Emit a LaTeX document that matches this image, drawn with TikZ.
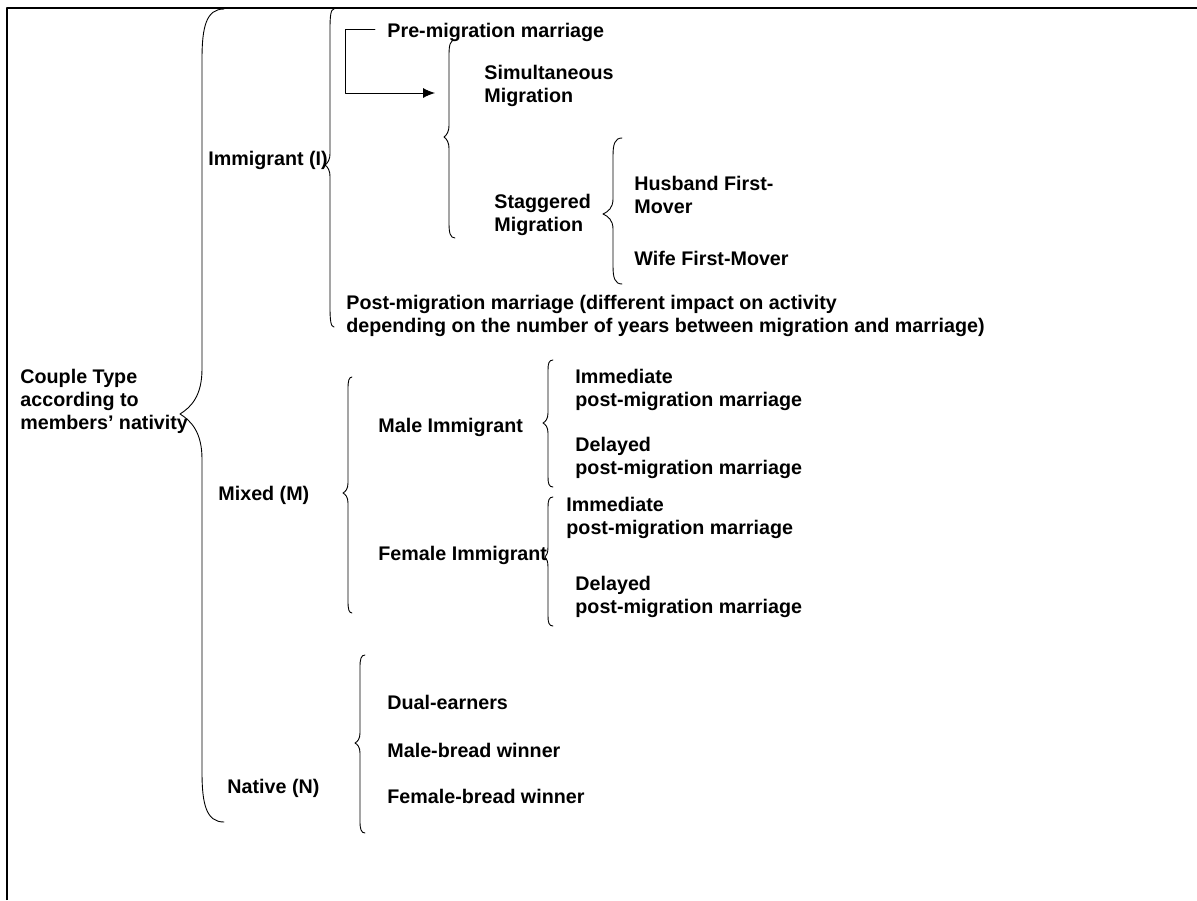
\documentclass[tikz,border=0pt]{standalone}
\usepackage{fontspec}
\setmainfont{Liberation Sans}
\usetikzlibrary{arrows.meta}
% curly brace: spine x, top y, tip y, bottom y, end offset, tip depth, end curl, tip curl
\newcommand\curly[8]{%
  \draw (#1+#5,#2) .. controls (#1+0.2*#5,#2) and (#1,#2+0.35*#7) .. (#1,#2+#7)
    -- (#1,#3-#8) .. controls (#1,#3-0.4*#8) and (#1-0.5*#6,#3-0.15*#8) .. (#1-#6,#3)
    .. controls (#1-0.5*#6,#3+0.15*#8) and (#1,#3+0.4*#8) .. (#1,#3+#8)
    -- (#1,#4-#7) .. controls (#1,#4-0.35*#7) and (#1+0.2*#5,#4) .. (#1+#5,#4);}
\tikzset{
  lbl/.style={anchor=base west, inner sep=0pt, align=left,
    font=\fontsize{19.7}{23}\selectfont\bfseries},
}
\begin{document}
\begin{tikzpicture}[x=1pt, y=-1pt, line join=round, line cap=round, line width=0.9pt]
    \useasboundingbox (0,0) rectangle (1197,900);
    % frame
    \draw[line width=2pt, line cap=butt] (7,900) -- (7,8) -- (1197,8);
    % braces
    \curly{202}{9}{414}{822}{22}{22}{50}{45}
    \curly{330}{9}{165}{327}{4}{5}{20}{12}
    \curly{449}{40}{137}{238}{6}{5}{15}{12}
    \curly{613}{138}{214}{284}{9}{10}{18}{15}
    \curly{348}{377}{493}{613}{4}{5}{12}{10}
    \curly{548}{360}{423}{487}{5}{5}{10}{10}
    \curly{548}{497}{557}{626}{5}{3}{10}{10}
    \curly{360}{655}{743}{833}{5}{5}{12}{10}
    % labels (base = last line)
    \node[lbl] (couple) at (20,429) {Couple Type\\according to\\members’ nativity};
    \node[lbl] (immig) at (208,165) {Immigrant (I)};
    \node[lbl] (mixed) at (218,500) {Mixed (M)};
    \node[lbl] (native) at (227,793) {Native (N)};
    \node[lbl] (pre) at (387,37) {Pre-migration marriage};
    \node[lbl] (simul) at (484,102) {Simultaneous\\Migration};
    \node[lbl] (stagg) at (494,231) {Staggered\\Migration};
    \node[lbl] (husb) at (634,213) {Husband First-\\Mover};
    \node[lbl] (wife) at (634,265) {Wife First-Mover};
    \node[lbl] (post) at (346,332) {Post-migration marriage (different impact on activity\\depending on the number of years between migration and marriage)};
    \node[lbl] (male) at (378,432) {Male Immigrant};
    \node[lbl] (female) at (378,560) {Female Immigrant};
    \node[lbl] (mimm) at (575,406) {Immediate\\post-migration marriage};
    \node[lbl] (mdel) at (575,474) {Delayed\\post-migration marriage};
    \node[lbl] (fimm) at (566,534) {Immediate\\post-migration marriage};
    \node[lbl] (fdel) at (575,613) {Delayed\\post-migration marriage};
    \node[lbl] (dual) at (387,709) {Dual-earners};
    \node[lbl] (mbw) at (387,757) {Male-bread winner};
    \node[lbl] (fbw) at (387,803) {Female-bread winner};
    % arrow
    \coordinate (arrS) at (375,29);
    \coordinate (arrK) at (345,29);
    \coordinate (arrE) at (435,93);
    \draw[-{Latex[length=12pt,width=10pt]}] (arrS) -- (arrK) |- (arrE);
\end{tikzpicture}
\end{document}
